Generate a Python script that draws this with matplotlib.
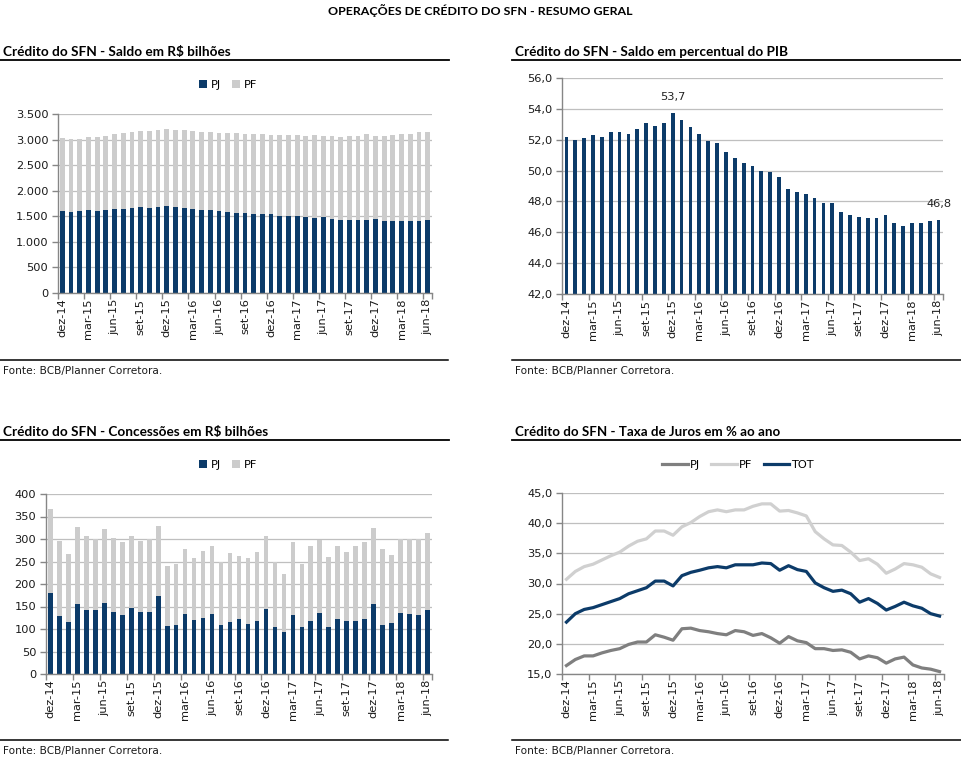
import matplotlib
matplotlib.use("Agg")
import matplotlib.pyplot as plt
from matplotlib.lines import Line2D
from matplotlib.patches import Patch
from matplotlib.ticker import FuncFormatter, MultipleLocator, FixedLocator
import numpy as np

# ---------------- data ----------------
months = ["dez-14", "jan-15", "fev-15", "mar-15", "abr-15", "mai-15", "jun-15", "jul-15", "ago-15",
          "set-15", "out-15", "nov-15", "dez-15", "jan-16", "fev-16", "mar-16", "abr-16", "mai-16",
          "jun-16", "jul-16", "ago-16", "set-16", "out-16", "nov-16", "dez-16", "jan-17", "fev-17",
          "mar-17", "abr-17", "mai-17", "jun-17", "jul-17", "ago-17", "set-17", "out-17", "nov-17",
          "dez-17", "jan-18", "fev-18", "mar-18", "abr-18", "mai-18", "jun-18"]

saldo_pj = [1600, 1585, 1600, 1625, 1600, 1625, 1643, 1643, 1662, 1682, 1662, 1682, 1701, 1682,
            1662, 1643, 1625, 1625, 1604, 1585, 1565, 1565, 1546, 1546, 1546, 1507, 1507, 1507,
            1487, 1468, 1487, 1448, 1429, 1429, 1429, 1429, 1448, 1409, 1409, 1409, 1409, 1409, 1429]
saldo_total = [3026, 3020, 3013, 3059, 3059, 3078, 3104, 3124, 3143, 3163, 3163, 3182, 3215, 3195,
               3182, 3163, 3143, 3143, 3124, 3124, 3124, 3104, 3104, 3104, 3085, 3085, 3085, 3085,
               3065, 3085, 3065, 3065, 3046, 3065, 3065, 3104, 3065, 3065, 3085, 3104, 3104, 3143, 3143]
saldo_pf = [t - p for t, p in zip(saldo_total, saldo_pj)]

pib = [52.2, 52.0, 52.1, 52.3, 52.2, 52.5, 52.5, 52.4, 52.7, 53.1, 52.9, 53.1, 53.7, 53.3, 52.8,
       52.4, 51.9, 51.8, 51.2, 50.8, 50.5, 50.3, 50.0, 49.9, 49.6, 48.8, 48.6, 48.5, 48.2, 47.9,
       47.9, 47.3, 47.1, 47.0, 46.9, 46.9, 47.1, 46.6, 46.4, 46.6, 46.6, 46.7, 46.8]

conc_pj = [179, 129, 115, 155, 142, 142, 158, 138, 131, 147, 138, 138, 173, 106, 109, 133, 120,
           124, 133, 109, 115, 122, 111, 118, 144, 104, 93, 131, 104, 118, 135, 104, 122, 118, 118,
           122, 155, 109, 113, 135, 133, 131, 142]
conc_total = [366, 295, 266, 326, 306, 299, 322, 303, 293, 306, 295, 299, 330, 240, 244, 277, 257,
              273, 284, 248, 268, 262, 257, 271, 306, 248, 222, 293, 244, 284, 297, 260, 284, 271,
              284, 293, 324, 277, 264, 299, 299, 299, 313]
conc_pf = [t - p for t, p in zip(conc_total, conc_pj)]

juros_pj = [16.4, 17.4, 18.0, 18.0, 18.5, 18.9, 19.2, 19.9, 20.3, 20.3, 21.5, 21.1, 20.6, 22.5,
            22.6, 22.2, 22.0, 21.7, 21.5, 22.2, 22.0, 21.4, 21.7, 21.0, 20.1, 21.2, 20.5, 20.2,
            19.2, 19.2, 18.9, 19.0, 18.6, 17.5, 18.0, 17.7, 16.8, 17.5, 17.8, 16.5, 16.0, 15.8, 15.4]
juros_pf = [30.7, 32.0, 32.8, 33.2, 33.9, 34.6, 35.2, 36.2, 37.0, 37.4, 38.7, 38.7, 38.0, 39.4,
            40.1, 41.1, 41.9, 42.2, 41.9, 42.2, 42.2, 42.8, 43.2, 43.2, 42.0, 42.1, 41.7, 41.2,
            38.6, 37.4, 36.4, 36.3, 35.2, 33.8, 34.1, 33.2, 31.7, 32.4, 33.3, 33.1, 32.7, 31.6, 31.0]
juros_tot = [23.6, 25.0, 25.7, 26.0, 26.5, 27.0, 27.5, 28.3, 28.8, 29.3, 30.4, 30.4, 29.6, 31.3,
             31.85, 32.2, 32.6, 32.8, 32.6, 33.1, 33.1, 33.1, 33.4, 33.3, 32.2, 32.95, 32.3, 32.0,
             30.1, 29.3, 28.7, 28.9, 28.3, 26.9, 27.5, 26.7, 25.6, 26.2, 26.9, 26.3, 25.9, 25.0, 24.6]

main_title = "OPERAÇÕES DE CRÉDITO DO SFN - RESUMO GERAL"
panel_titles = ["Crédito do SFN - Saldo em R$ bilhões",
                "Crédito do SFN - Saldo em percentual do PIB",
                "Crédito do SFN - Concessões em R$ bilhões",
                "Crédito do SFN - Taxa de Juros em % ao ano"]
source = "Fonte: BCB/Planner Corretora."

# ---------------- style ----------------
NAVY = "#0c3b69"
LGRAY = "#cccccc"
PJGRAY = "#7f7f7f"
PFGRAY = "#d0d0d0"
GRID = "#bfbfbf"
AXC = "#868686"
W, H = 961, 761
TICKFS = 8.2
HEADFONT = ["Lato", "DejaVu Sans"]

fig = plt.figure(figsize=(W / 100, H / 100), dpi=100)
fig.patch.set_facecolor("white")


def rect(x0, x1, yt, yb):
    return [x0 / W, 1 - yb / H, (x1 - x0) / W, (yb - yt) / H]


def fx(x):
    return x / W


def fy(y):
    return 1 - y / H


def hline(x0, x1, y, lw=1.3):
    fig.add_artist(Line2D([fx(x0), fx(x1)], [fy(y), fy(y)], color="black", lw=lw,
                          transform=fig.transFigure))


x = np.arange(len(months))
label_idx = list(range(0, len(months), 3))


def style_axes(ax, ymin, ymax, ystep, fmt):
    ax.set_xlim(-0.5, len(months) - 0.5)
    ax.set_ylim(ymin, ymax)
    ax.yaxis.set_major_locator(MultipleLocator(ystep))
    ax.yaxis.set_major_formatter(FuncFormatter(fmt))
    ax.grid(axis="y", color=GRID, lw=0.9)
    ax.set_axisbelow(True)
    for s in ["top", "right"]:
        ax.spines[s].set_visible(False)
    for s in ["left", "bottom"]:
        ax.spines[s].set_color(AXC)
        ax.spines[s].set_linewidth(1.0)
    ax.xaxis.set_major_locator(FixedLocator([i - 0.5 for i in label_idx] + [len(months) - 0.5]))
    ax.xaxis.set_major_formatter(FuncFormatter(lambda v, p: ""))
    ax.set_xticks(label_idx, [months[i] for i in label_idx], minor=True)
    ax.tick_params(axis="x", which="major", length=4, color=AXC, width=1.0)
    ax.tick_params(axis="x", which="minor", length=0, labelsize=TICKFS, rotation=90, pad=4)
    ax.tick_params(axis="y", length=4, color=AXC, width=1.0, labelsize=TICKFS, pad=3)


def fmt_thousands(v, p):
    return f"{int(round(v)):,}".replace(",", ".")


def fmt_comma1(v, p):
    return f"{v:.1f}".replace(".", ",")


def fmt_int(v, p):
    return f"{int(round(v))}"


# Panel 1: Saldo
ax1 = fig.add_axes(rect(58, 432, 114, 293))
ax1.bar(x, saldo_pj, width=0.55, color=NAVY, label="PJ")
ax1.bar(x, saldo_pf, width=0.55, bottom=saldo_pj, color=LGRAY, label="PF")
style_axes(ax1, 0, 3500, 500, fmt_thousands)

# Panel 2: % PIB
ax2 = fig.add_axes(rect(562, 943, 78, 294))
ax2.bar(x, [v - 42 for v in pib], bottom=42, width=0.42, color=NAVY)
style_axes(ax2, 42, 56, 2, fmt_comma1)
for i in [12, len(pib) - 1]:
    ax2.annotate(f"{pib[i]:.1f}".replace(".", ","), (x[i], pib[i]), xytext=(0, 8),
                 textcoords="offset points", ha="center", va="bottom", fontsize=TICKFS,
                 color="#222222")

# Panel 3: Concessões
ax3 = fig.add_axes(rect(46, 432, 494, 674))
ax3.bar(x, conc_pj, width=0.52, color=NAVY, label="PJ")
ax3.bar(x, conc_pf, width=0.52, bottom=conc_pj, color=LGRAY, label="PF")
style_axes(ax3, 0, 400, 50, fmt_int)

# Panel 4: Juros
ax4 = fig.add_axes(rect(562, 944, 493, 674))
ax4.plot(x, juros_pj, color=PJGRAY, lw=2.3, label="PJ", solid_joinstyle="round")
ax4.plot(x, juros_pf, color=PFGRAY, lw=2.3, label="PF", solid_joinstyle="round")
ax4.plot(x, juros_tot, color=NAVY, lw=2.3, label="TOT", solid_joinstyle="round")
style_axes(ax4, 15, 45, 5, fmt_comma1)

for ax in (ax1, ax2, ax3, ax4):
    for t in ax.get_xticklabels(minor=True) + ax.get_yticklabels():
        t.set_color("#1a1a1a")

# legends
bar_handles = [Patch(facecolor=NAVY, label="PJ"), Patch(facecolor=LGRAY, label="PF")]
for cy in (85, 465):
    fig.legend(handles=bar_handles, loc="center", bbox_to_anchor=(fx(228), fy(cy)), ncol=2,
               frameon=False, fontsize=TICKFS, handlelength=0.7, handleheight=0.7,
               handletextpad=0.3, columnspacing=1.0)
line_handles = [Line2D([], [], color=PJGRAY, lw=2.3, label="PJ"),
                Line2D([], [], color=PFGRAY, lw=2.3, label="PF"),
                Line2D([], [], color=NAVY, lw=2.3, label="TOT")]
fig.legend(handles=line_handles, loc="center", bbox_to_anchor=(fx(738), fy(465)), ncol=3,
           frameon=False, fontsize=TICKFS, handlelength=2.2, handletextpad=0.2,
           columnspacing=1.0)

# titles, rules, sources
heads = []
heads.append((fig.text(fx(480), fy(11), main_title, ha="center", va="center", fontsize=9.5,
                       fontweight="bold", family=HEADFONT), 308))
head_widths = [227, 274, 265, 265]
for (tx, ty), t, wd in zip([(3, 52), (515, 52), (3, 432), (515, 432)], panel_titles, head_widths):
    heads.append((fig.text(fx(tx), fy(ty), t, ha="left", va="center", fontsize=10,
                           fontweight="bold", family=HEADFONT), wd))
for y in (60, 440):
    hline(0, 449, y)
    hline(512, 961, y)
for y in (360, 740):
    hline(0, 448, y, lw=1.1)
    hline(512, 961, y, lw=1.1)
for (tx, ty) in [(3, 371), (515, 371), (3, 751), (515, 751)]:
    heads.append((fig.text(fx(tx), fy(ty), source, ha="left", va="center", fontsize=7.6,
                           color="#1a1a1a"), 159))

# fit text widths to the reference
fig.canvas.draw()
r = fig.canvas.get_renderer()
for t, wd in heads:
    w = t.get_window_extent(renderer=r).width
    t.set_fontsize(t.get_fontsize() * wd / w)

fig.savefig("out.png", dpi=100)
